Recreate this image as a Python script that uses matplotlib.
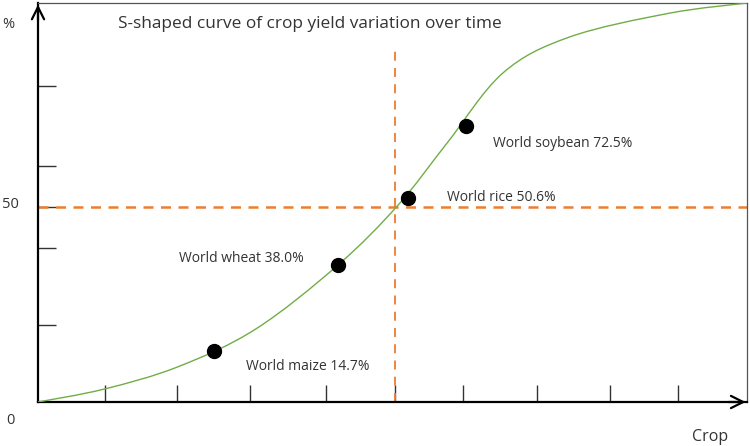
import matplotlib.pyplot as plt
from matplotlib.path import Path
from matplotlib.patches import PathPatch

# values (x in tick units, y in %)
curve_x = [0, 0.93, 1.97, 3.07, 4.23, 5.08, 5.77, 6.56, 7.5, 8.91, 10]
curve_y = [0, 3.3, 9.0, 18.7, 35.1, 50.5, 66.4, 84.4, 93.6, 99.7, 102.3]

crops = ['World maize', 'World wheat', 'World rice', 'World soybean']
yields = [14.7, 38.0, 50.6, 72.5]
point_x = [2.48, 4.23, 5.22, 6.04]
point_y = [13.1, 35.1, 52.3, 70.8]
label_x = [2.93, 1.99, 5.77, 6.42]
label_y = [9.0, 36.9, 52.4, 66.4]

x_ticks = [0.95, 1.96, 2.99, 4.06, 5.04, 5.99, 7.04, 8.07, 9.03]
y_ticks = [19.7, 39.5, 50, 60.5, 81]

mid_x = 5.04
mid_y = 50
mid_top = 91

plt.rcParams['font.family'] = ['Open Sans', 'DejaVu Sans']

fig = plt.figure(figsize=(7.5, 4.46), dpi=100)
ax = fig.add_axes([38 / 750, 44 / 446, 709 / 750, 399 / 446])
ax.set_xlim(0, 10)
ax.set_ylim(0, 102.3)

orange = '#ED7D31'
ax.axhline(mid_y, color=orange, lw=1.8, linestyle=(0, (4, 3)), zorder=2)
ax.plot([mid_x, mid_x], [0, mid_top], color=orange, lw=1.3,
        linestyle=(0, (5, 4)), zorder=2)

# smoothed line through the read points (Catmull-Rom as cubic Bezier)
pts = list(zip(curve_x, curve_y))
verts = [pts[0]]
codes = [Path.MOVETO]
for i in range(len(pts) - 1):
    p0 = pts[max(i - 1, 0)]
    p1 = pts[i]
    p2 = pts[i + 1]
    p3 = pts[min(i + 2, len(pts) - 1)]
    c1 = (p1[0] + (p2[0] - p0[0]) / 6, p1[1] + (p2[1] - p0[1]) / 6)
    c2 = (p2[0] - (p3[0] - p1[0]) / 6, p2[1] - (p3[1] - p1[1]) / 6)
    verts += [c1, c2, p2]
    codes += [Path.CURVE4] * 3
ax.add_patch(PathPatch(Path(verts, codes), facecolor='none',
                       edgecolor='#70AD47', lw=1.0, zorder=3))

ax.plot(point_x, point_y, 'o', color='black', markersize=10, zorder=4)

for name, val, lx, ly in zip(crops, yields, label_x, label_y):
    ax.text(lx, ly, f'{name} {val:.1f}%', fontsize=10, color='#333333',
            ha='left', va='center')

ax.text(1.13, 96.9, 'S-shaped curve of crop yield variation over time',
        fontsize=12.4, color='#333333', ha='left', va='center')

for s in ['left', 'bottom']:
    ax.spines[s].set_linewidth(1.6)
    ax.spines[s].set_color('black')
for s in ['top', 'right']:
    ax.spines[s].set_linewidth(0.9)
    ax.spines[s].set_color('#555555')

ax.set_xticks(x_ticks)
ax.set_yticks(y_ticks)
ax.tick_params(axis='x', direction='in', length=12, width=1, color='#333333',
               labelbottom=False)
ax.tick_params(axis='y', direction='in', length=13, width=1, color='#333333',
               labelleft=False)

# arrow heads on both axes
ax.annotate('', xy=(1.002, 0), xytext=(0.97, 0), xycoords='axes fraction',
            arrowprops=dict(arrowstyle='->', lw=1.6, color='black',
                            mutation_scale=22), annotation_clip=False)
ax.annotate('', xy=(0, 1.003), xytext=(0, 0.95), xycoords='axes fraction',
            arrowprops=dict(arrowstyle='->', lw=1.6, color='black',
                            mutation_scale=22), annotation_clip=False)

fig.text(2 / 750, 1 - 25 / 446, '%', fontsize=10.5, color='#333333',
         ha='left', va='center')
fig.text(2 / 750, 1 - 204 / 446, '50', fontsize=10.5, color='#333333',
         ha='left', va='center')
fig.text(6 / 750, 1 - 420 / 446, '0', fontsize=10.5, color='#333333',
         ha='left', va='center')
fig.text(692 / 750, 1 - 437 / 446, 'Crop', fontsize=11.5, color='#333333',
         ha='left', va='center')

fig.savefig('out.png', dpi=100)
